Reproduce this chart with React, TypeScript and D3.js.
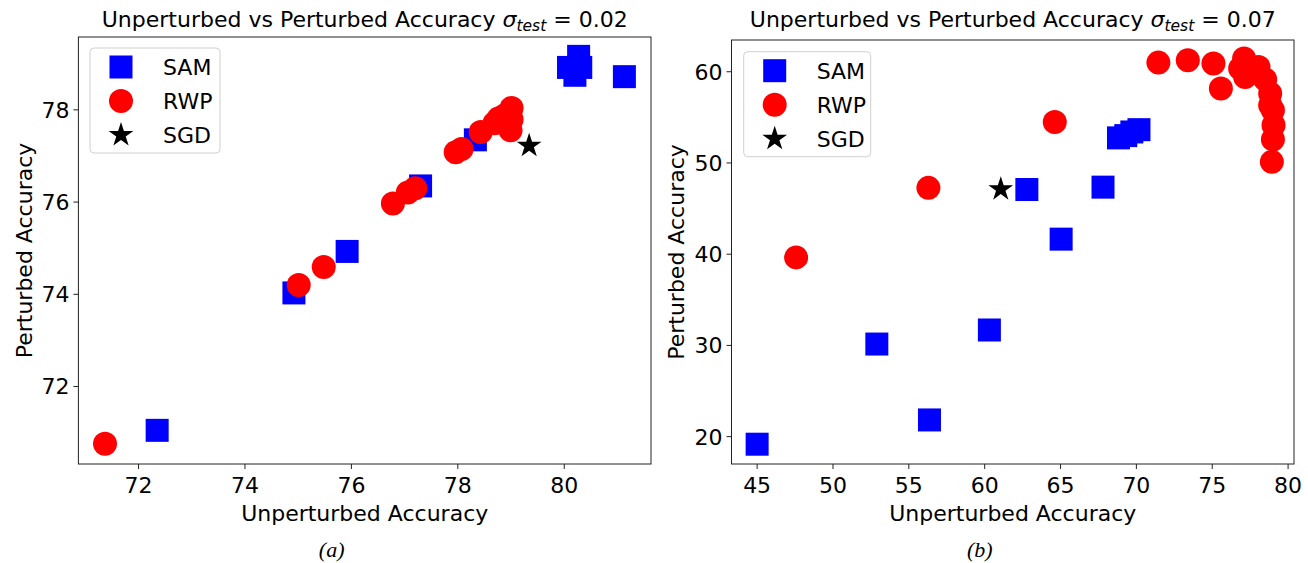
import React from "react";
import * as d3 from "d3";

// ---------- Data: panel (a) sigma_test = 0.02 ----------
const samAX = [72.35, 74.92, 75.92, 77.3, 78.33, 80.27, 80.08, 80.2, 80.31, 81.13];
const samAY = [71.05, 74.03, 74.93, 76.35, 77.35, 79.16, 78.92, 78.75, 78.92, 78.72];
const rwpAX = [71.37, 75.01, 75.48, 76.78, 77.06, 77.2, 77.96, 78.07, 78.43, 78.69, 78.77, 78.89, 79.01, 78.99, 79.01];
const rwpAY = [70.76, 74.2, 74.59, 75.97, 76.21, 76.3, 77.08, 77.15, 77.52, 77.71, 77.82, 77.89, 78.04, 77.56, 77.79];
const sgdAX = [79.34];
const sgdAY = [77.22];
const xTicksA = [72, 74, 76, 78, 80];
const yTicksA = [72, 74, 76, 78];

// ---------- Data: panel (b) sigma_test = 0.07 ----------
const samBX = [45.0, 52.89, 56.36, 60.31, 62.78, 65.04, 67.8, 68.82, 69.3, 69.7, 70.17];
const samBY = [19.17, 30.15, 21.83, 31.69, 47.09, 41.65, 47.35, 52.75, 53.0, 53.4, 53.65];
const rwpBX = [47.57, 56.29, 64.62, 71.45, 73.39, 75.08, 75.57, 77.1, 76.84, 77.17, 78.05, 78.49, 78.82, 78.82, 79.0, 79.04, 79.0, 78.93];
const rwpBY = [39.65, 47.27, 54.5, 61.0, 61.26, 60.9, 58.16, 61.45, 60.35, 59.43, 60.53, 59.15, 57.61, 56.33, 55.78, 54.14, 52.57, 50.12];
const sgdBX = [61.06];
const sgdBY = [47.13];
const xTicksB = [45, 50, 55, 60, 65, 70, 75, 80];
const yTicksB = [20, 30, 40, 50, 60];

const seriesNames = ["SAM", "RWP", "SGD"];
const FONT = "'DejaVu Sans', sans-serif";
const FS = 22;
const SQ = 23;
const CR = 12;
const starPath = d3.symbol().type(d3.symbolStar).size(190)() as string;

type PanelProps = {
  left: number; right: number; top: number; bottom: number;
  xDom: [number, number]; yDom: [number, number];
  xTicks: number[]; yTicks: number[];
  sam: [number[], number[]]; rwp: [number[], number[]]; sgd: [number[], number[]];
  sigma: string; caption: string;
  legend: { x: number; y: number; w: number; h: number };
  yLabelX: number;
};

function Marker({ kind, x, y }: { kind: number; x: number; y: number }) {
  if (kind === 0) return <rect x={x - SQ / 2} y={y - SQ / 2} width={SQ} height={SQ} fill="#0000ff" />;
  if (kind === 1) return <circle cx={x} cy={y} r={CR} fill="#ff0000" />;
  return <path d={starPath} transform={`translate(${x},${y})`} fill="#000000" />;
}

function Panel(p: PanelProps) {
  const x = d3.scaleLinear().domain(p.xDom).range([p.left, p.right]);
  const y = d3.scaleLinear().domain(p.yDom).range([p.bottom, p.top]);
  const cx = (p.left + p.right) / 2;
  const cy = (p.top + p.bottom) / 2;
  const groups: [number[], number[]][] = [p.sam, p.rwp, p.sgd];
  return (
    <g fontFamily={FONT}>
      <text x={cx} y={27} textAnchor="middle" fontSize={FS} fill="#000">
        Unperturbed vs Perturbed Accuracy{" "}
        <tspan fontStyle="italic">σ</tspan>
        <tspan fontStyle="italic" fontSize={15.5} dy={4}>test</tspan>
        <tspan dy={-4}> = {p.sigma}</tspan>
      </text>
      <clipPath id={`clip-${p.caption}`}>
        <rect x={p.left} y={p.top} width={p.right - p.left} height={p.bottom - p.top} />
      </clipPath>
      <g clipPath={`url(#clip-${p.caption})`}>
        {groups.map((g, k) =>
          g[0].map((v, i) => <Marker key={`${k}-${i}`} kind={k} x={x(v)} y={y(g[1][i])} />)
        )}
      </g>
      <rect x={p.left} y={p.top} width={p.right - p.left} height={p.bottom - p.top} fill="none" stroke="#222" strokeWidth={1} />
      {p.xTicks.map((t) => (
        <g key={`xt${t}`}>
          <line x1={x(t)} x2={x(t)} y1={p.bottom} y2={p.bottom + 5} stroke="#222" />
          <text x={x(t)} y={p.bottom + 29} textAnchor="middle" fontSize={FS} fill="#000">{t}</text>
        </g>
      ))}
      {p.yTicks.map((t) => (
        <g key={`yt${t}`}>
          <line x1={p.left - 5} x2={p.left} y1={y(t)} y2={y(t)} stroke="#222" />
          <text x={p.left - 9} y={y(t)} dy="0.36em" textAnchor="end" fontSize={FS} fill="#000">{t}</text>
        </g>
      ))}
      <text x={cx} y={521} textAnchor="middle" fontSize={FS} fill="#000">Unperturbed Accuracy</text>
      <text transform={`translate(${p.yLabelX},${cy}) rotate(-90)`} textAnchor="middle" fontSize={FS} fill="#000">Perturbed Accuracy</text>
      <rect x={p.legend.x} y={p.legend.y} width={p.legend.w} height={p.legend.h} rx={4} fill="#fff" fillOpacity={0.8} stroke="#d0d0d0" />
      {seriesNames.map((s, k) => {
        const ry = p.legend.y + 19 + k * 34;
        return (
          <g key={s}>
            <Marker kind={k} x={p.legend.x + 31} y={ry} />
            <text x={p.legend.x + 73} y={ry} dy="0.36em" fontSize={FS} fill="#000">{s}</text>
          </g>
        );
      })}
      <text x={cx - 33} y={557} textAnchor="middle" fontSize={FS} fontStyle="italic" fontFamily="'Liberation Serif', serif" fill="#000">{p.caption}</text>
    </g>
  );
}

export default function App() {
  return (
    <svg width={1308} height={563} style={{ position: "absolute", left: 0, top: 0, background: "#fff" }}>
      <rect x={0} y={0} width={1308} height={563} fill="#fff" />
      <Panel
        left={78.4} right={651} top={37} bottom={464}
        xDom={[70.87, 81.63]} yDom={[70.32, 79.58]}
        xTicks={xTicksA} yTicks={yTicksA}
        sam={[samAX, samAY]} rwp={[rwpAX, rwpAY]} sgd={[sgdAX, sgdAY]}
        sigma="0.02" caption="(a)"
        legend={{ x: 90, y: 48, w: 130, h: 105 }}
        yLabelX={32}
      />
      <Panel
        left={731.5} right={1294} top={40} bottom={464}
        xDom={[43.31, 80.39]} yDom={[17.0, 63.48]}
        xTicks={xTicksB} yTicks={yTicksB}
        sam={[samBX, samBY]} rwp={[rwpBX, rwpBY]} sgd={[sgdBX, sgdBY]}
        sigma="0.07" caption="(b)"
        legend={{ x: 743.7, y: 51.7, w: 127, h: 105 }}
        yLabelX={684}
      />
    </svg>
  );
}
